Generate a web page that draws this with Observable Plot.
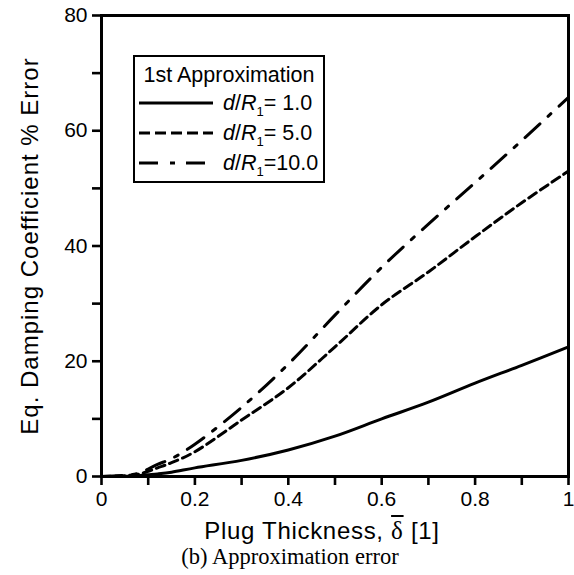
<!DOCTYPE html>
<html>
<head>
<meta charset="utf-8">
<script src="https://cdn.jsdelivr.net/npm/d3@7"></script>
<script src="https://cdn.jsdelivr.net/npm/@observablehq/plot@0.6"></script>
<style>
  html, body { margin: 0; padding: 0; background: #fff; }
  #wrap { position: relative; width: 574px; height: 575px; font-family: "Liberation Sans", Arial, sans-serif; color: #000; overflow: hidden; }
  #chart svg { display: block; }
  #xlabel { position: absolute; left: 0; top: 518px; width: 574px; height: 24px; line-height: 24px; text-align: center; padding-left: 70px; box-sizing: border-box; font-size: 24px; letter-spacing: 0.7px; white-space: nowrap; }
  #xlabel .delta { text-decoration: overline; font-family: "Liberation Serif", serif; font-size: 25px; line-height: 1; }
  #caption { position: absolute; left: 0; top: 546px; width: 574px; height: 22px; line-height: 22px; text-align: center; padding-left: 6px; box-sizing: border-box; font-family: "Liberation Serif", "Times New Roman", serif; font-size: 22.5px; white-space: nowrap; }
  #legend { position: absolute; left: 133px; top: 55px; width: 192px; height: 128px; border: 2px solid #000; box-sizing: border-box; background: #fff; font-size: 21.5px; }
  #legend .title { text-align: center; margin-top: 5px; height: 26px; line-height: 26px; white-space: nowrap; }
  #legend .row { display: flex; align-items: center; height: 30px; white-space: nowrap; }
  #legend .row svg { margin-left: 4px; margin-right: 10px; flex: none; }
  .sub { font-size: 13px; position: relative; top: 6px; font-style: normal; }
</style>
</head>
<body>
<div id="wrap">
  <div id="chart"></div>
  <div id="xlabel">Plug Thickness, <span class="delta">δ</span> [1]</div>
  <div id="caption">(b) Approximation error</div>
  <div id="legend"></div>
</div>
<script>
const delta   = [0, 0.05, 0.08, 0.1, 0.12, 0.15, 0.2, 0.3, 0.4, 0.5, 0.6, 0.7, 0.8, 0.9, 1.0];
const err1    = [0, 0.05, 0.15, 0.3, 0.45, 0.75, 1.5, 2.8, 4.6, 7.0, 10.0, 12.9, 16.2, 19.3, 22.5];
const err5    = [0, 0.15, 0.4, 0.9, 1.5, 2.4, 4.3, 9.8, 15.4, 22.5, 29.8, 35.5, 41.6, 47.5, 53.0];
const err10   = [0, 0.2, 0.6, 1.3, 2.1, 3.1, 5.6, 12.0, 19.5, 28.0, 36.3, 43.8, 51.0, 58.3, 65.8];
const seriesNames = ["d/R1= 1.0", "d/R1= 5.0", "d/R1=10.0"];
const seriesValues = [err1, err5, err10];
const dashes = ["none", "9,5", "20,11,4,11"];
const legendDashes = ["", "11,5", "19,12,5,11"];
const xTicks = [0, 0.1, 0.2, 0.3, 0.4, 0.5, 0.6, 0.7, 0.8, 0.9, 1.0];
const xTickLabels = ["0", "", "0.2", "", "0.4", "", "0.6", "", "0.8", "", "1"];
const yTicks = [0, 10, 20, 30, 40, 50, 60, 70, 80];
const yTickLabels = ["0", "", "20", "", "40", "", "60", "", "80"];

const marks = [];
seriesValues.forEach((vals, i) => {
  const data = delta.map((d, j) => ({x: d, y: vals[j]}));
  marks.push(Plot.line(data, {x: "x", y: "y", stroke: "#000", strokeWidth: 3, strokeDasharray: dashes[i], curve: "catmull-rom"}));
});

const plot = Plot.plot({
  width: 574,
  height: 506,
  marginLeft: 101,
  marginRight: 6,
  marginTop: 15,
  marginBottom: 30,
  style: {fontFamily: "'Liberation Sans', Arial, sans-serif", fontSize: "21px", color: "#000", background: "#fff", overflow: "visible"},
  x: {domain: [0, 1]},
  y: {domain: [0, 80]},
  marks: [
    Plot.axisX({ticks: xTicks, tickFormat: (d) => xTickLabels[xTicks.indexOf(d)], tickSize: 9, tickPadding: 6, label: null}),
    Plot.axisY({ticks: yTicks, tickFormat: (d) => yTickLabels[yTicks.indexOf(d)], tickSize: 9, tickPadding: 5,
      label: "Eq. Damping Coefficient % Error", labelAnchor: "center", labelArrow: "none", labelOffset: 81}),
    ...marks,
    Plot.frame({stroke: "#000", strokeWidth: 3})
  ]
});
// typography and tick weight
plot.querySelectorAll('[aria-label$="tick label"]').forEach(g => {
  g.style.fontSize = "21px";
  g.querySelectorAll("text").forEach(t => { t.style.fontSize = "21px"; });
});
plot.querySelectorAll('[aria-label="y-axis label"]').forEach(g => {
  g.style.fontSize = "24px";
  g.querySelectorAll("text").forEach(t => { t.style.fontSize = "24px"; t.style.letterSpacing = "1px"; });
});
plot.querySelectorAll('[aria-label$="-axis tick"]').forEach(g => {
  g.style.strokeWidth = "2.6px";
  g.style.stroke = "#000";
  g.style.strokeOpacity = "1";
  g.querySelectorAll("path").forEach(p => { p.style.strokeWidth = "2.6px"; p.style.stroke = "#000"; });
});
document.getElementById("chart").appendChild(plot);

// legend
const legend = document.getElementById("legend");
legend.innerHTML = '<div class="title">1st Approximation</div>';
seriesNames.forEach((name, i) => {
  const row = document.createElement("div");
  row.className = "row";
  const num = name.split("=")[1];
  row.innerHTML = `<svg width="74" height="8"><line x1="0" y1="4" x2="74" y2="4" stroke="#000" stroke-width="3" stroke-dasharray="${legendDashes[i]}"/></svg>` +
    `<span><i>d</i>/<i>R</i><span class="sub">1</span>=${num}</span>`;
  legend.appendChild(row);
});
</script>
</body>
</html>
